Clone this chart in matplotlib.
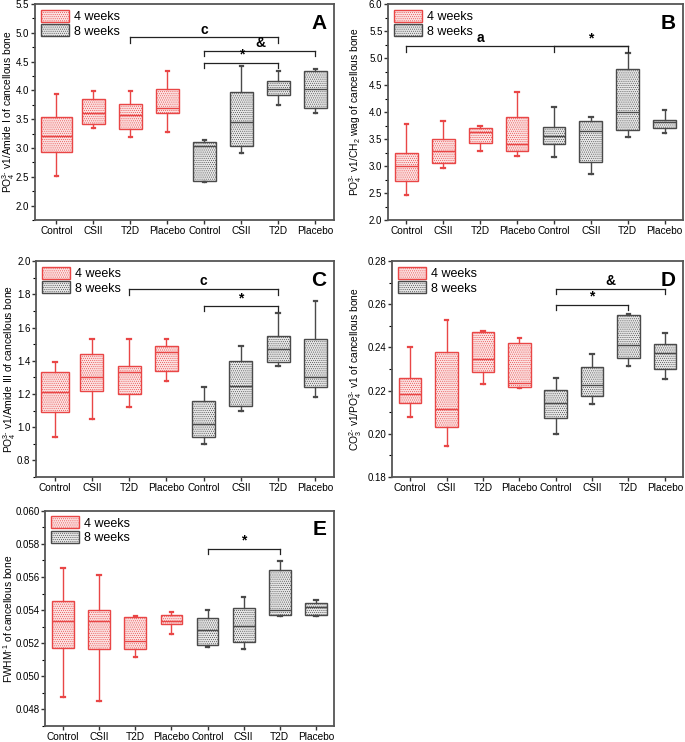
import numpy as np
import matplotlib
matplotlib.use('Agg')
import matplotlib.pyplot as plt
from matplotlib.patches import Patch
from matplotlib.ticker import MultipleLocator, FormatStrFormatter

plt.rcParams['font.family'] = ['Liberation Sans', 'DejaVu Sans']
plt.rcParams['mathtext.fontset'] = 'custom'
plt.rcParams['mathtext.rm'] = 'Liberation Sans'
plt.rcParams['mathtext.it'] = 'Liberation Sans:italic'
plt.rcParams['mathtext.bf'] = 'Liberation Sans:bold'
plt.rcParams['hatch.linewidth'] = 0.4

groups = ['Control', 'CSII', 'T2D', 'Placebo', 'Control', 'CSII', 'T2D', 'Placebo']

# panel A: PO4 v1 / Amide I
a_low = [2.51, 3.35, 3.20, 3.27, 2.41, 2.92, 3.74, 3.61]
a_q1 = [2.93, 3.42, 3.33, 3.60, 2.43, 3.04, 3.92, 3.70]
a_med = [3.21, 3.61, 3.58, 3.70, 3.04, 3.45, 4.03, 4.03]
a_q3 = [3.54, 3.85, 3.76, 4.02, 3.10, 3.98, 4.16, 4.33]
a_high = [3.93, 3.99, 3.99, 4.34, 3.14, 4.42, 4.33, 4.38]

# panel B: PO4 v1 / CH2 wag
b_low = [2.46, 2.96, 3.27, 3.19, 3.17, 2.86, 3.54, 3.62]
b_q1 = [2.72, 3.05, 3.43, 3.27, 3.41, 3.07, 3.67, 3.70]
b_med = [3.00, 3.27, 3.63, 3.40, 3.56, 3.65, 4.01, 3.82]
b_q3 = [3.25, 3.50, 3.70, 3.91, 3.72, 3.84, 4.80, 3.85]
b_high = [3.77, 3.84, 3.75, 4.38, 4.09, 3.91, 5.10, 4.04]

# panel C: PO4 v1 / Amide III
c_low = [0.94, 1.05, 1.12, 1.28, 0.90, 1.10, 1.37, 1.18]
c_q1 = [1.09, 1.22, 1.20, 1.34, 0.94, 1.13, 1.39, 1.24]
c_med = [1.21, 1.30, 1.33, 1.45, 1.02, 1.25, 1.47, 1.30]
c_q3 = [1.33, 1.44, 1.37, 1.49, 1.16, 1.40, 1.55, 1.53]
c_high = [1.39, 1.53, 1.53, 1.53, 1.24, 1.49, 1.69, 1.76]

# panel D: CO3 v1 / PO4 v1
d_low = [0.208, 0.1946, 0.2233, 0.2213, 0.200, 0.2139, 0.2313, 0.2253]
d_q1 = [0.2144, 0.2032, 0.2287, 0.2216, 0.2074, 0.2173, 0.2352, 0.2300]
d_med = [0.2185, 0.2113, 0.2347, 0.2236, 0.2141, 0.2224, 0.2412, 0.2375]
d_q3 = [0.2258, 0.2378, 0.2474, 0.2420, 0.2201, 0.2309, 0.2552, 0.2417]
d_high = [0.2400, 0.2525, 0.2476, 0.2445, 0.2258, 0.2372, 0.2553, 0.2468]

# panel E: FWHM^-1
e_low = [0.04877, 0.04852, 0.05114, 0.05257, 0.05175, 0.05165, 0.05366, 0.05366]
e_q1 = [0.05173, 0.05167, 0.05167, 0.05318, 0.05189, 0.05205, 0.05372, 0.05372]
e_med = [0.05332, 0.05332, 0.05215, 0.05335, 0.05281, 0.05306, 0.05400, 0.05420]
e_q3 = [0.05457, 0.05402, 0.05358, 0.05372, 0.05352, 0.05412, 0.05642, 0.05443]
e_high = [0.05656, 0.05610, 0.05366, 0.05388, 0.05402, 0.05479, 0.05698, 0.05459]

red = '#e94646'
red_fill = '#fbe2e2'
gray = '#4a4a4a'
gray_fill = '#e6e6e6'
hatch = '........'

fig = plt.figure(figsize=(6.85, 7.42), dpi=100)


def panel(rect, low, q1, med, q3, high, ylim, major, minor, fmt, ylabel, labelx,
          letter, brackets, widths, xlim=(0.5, 8.5)):
    ax = fig.add_axes(rect)
    stats = [dict(whislo=low[i], q1=q1[i], med=med[i], q3=q3[i], whishi=high[i])
             for i in range(8)]
    for i, s in enumerate(stats):
        c = red if i < 4 else gray
        f = red_fill if i < 4 else gray_fill
        ax.bxp([s], positions=[i + 1], widths=widths[i], patch_artist=True,
               showfliers=False, capwidths=0.1,
               boxprops=dict(facecolor=f, edgecolor=c, hatch=hatch, linewidth=1.0),
               medianprops=dict(color=c, linewidth=1.0),
               whiskerprops=dict(color=c, linewidth=1.0),
               capprops=dict(color=c, linewidth=1.6))
    ax.set_xlim(*xlim)
    ax.set_ylim(*ylim)
    ax.set_xticks(range(1, 9))
    ax.set_xticklabels(groups, fontsize=7.3)
    ax.yaxis.set_major_locator(MultipleLocator(major))
    ax.yaxis.set_minor_locator(MultipleLocator(minor))
    ax.yaxis.set_major_formatter(FormatStrFormatter(fmt))
    ax.tick_params(axis='y', labelsize=7.0, direction='out', length=3, width=1,
                   pad=1, colors='#333333', labelcolor='black')
    ax.tick_params(axis='y', which='minor', length=2, width=0.8)
    ax.tick_params(axis='x', direction='out', length=3, width=1, pad=1.5,
                   colors='#333333', labelcolor='black')
    for sp in ax.spines.values():
        sp.set_linewidth(1.3)
        sp.set_color('#555555')
    ax.set_ylabel(ylabel, fontsize=7.4)
    ax.yaxis.set_label_coords(labelx, 0.5)
    ax.text(0.975, 0.955, letter, transform=ax.transAxes, ha='right', va='top',
            fontsize=15, fontweight='bold')
    span = ylim[1] - ylim[0]
    for x1, x2, y, label, ticks, lx in brackets:
        ax.plot([x1, x2], [y, y], color='#222222', lw=0.9)
        for t in ticks:
            ax.plot([t, t], [y, y - 0.025 * span], color='#222222', lw=0.9)
        ax.text(lx, y + 0.004 * span, label, ha='center', va='bottom',
                fontsize=10, fontweight='bold')
    ax.legend(handles=[Patch(facecolor=red_fill, edgecolor=red, hatch=hatch),
                       Patch(facecolor=gray_fill, edgecolor=gray, hatch=hatch)],
              labels=['4 weeks', '8 weeks'], loc='upper left', frameon=False,
              fontsize=9, handlelength=2.3, handleheight=1.1,
              labelspacing=0.12, borderaxespad=0.25, borderpad=0.2,
              handletextpad=0.35)
    return ax


w = [0.62] * 8
panel([0.051, 0.7035, 0.4365, 0.291], a_low, a_q1, a_med, a_q3, a_high,
      (1.75, 5.5), 0.5, 0.25, '%.1f',
      r'PO$_4^{3\text{-}}$ v1/Amide I of cancellous bone', -0.06, 'A',
      [(3, 7, 4.92, 'c', [3, 7], 5), (5, 8, 4.69, '&', [5, 8], 6.5),
       (5, 7, 4.48, '*', [5, 7], 6)],
      [0.82] + [0.6] * 7, xlim=(0.42, 8.5))

panel([0.5664, 0.7035, 0.4307, 0.291], b_low, b_q1, b_med, b_q3, b_high,
      (2.0, 6.0), 0.5, 0.25, '%.1f',
      r'PO$_4^{3\text{-}}$ v1/CH$_2$ wag of cancellous bone', -0.082, 'B',
      [(1, 7, 5.22, 'a', [1, 5, 7], 3), (5, 7, 5.22, '*', [], 6)], w)

panel([0.0526, 0.3571, 0.435, 0.291], c_low, c_q1, c_med, c_q3, c_high,
      (0.7, 2.0), 0.2, 0.1, '%.1f',
      r'PO$_4^{3\text{-}}$ v1/Amide III of cancellous bone', -0.062, 'C',
      [(3, 7, 1.83, 'c', [3, 7], 5), (5, 7, 1.73, '*', [5, 7], 6)],
      [0.75] + [0.62] * 7)

panel([0.5723, 0.3571, 0.4248, 0.291], d_low, d_q1, d_med, d_q3, d_high,
      (0.18, 0.28), 0.02, 0.01, '%.2f',
      r'CO$_3^{2\text{-}}$ v1/PO$_4^{3\text{-}}$ v1 of cancellous bone', -0.095, 'D',
      [(5, 8, 0.2672, '&', [5, 8], 6.5), (5, 7, 0.2599, '*', [5, 7], 6)], w)

panel([0.0657, 0.0216, 0.4219, 0.29], e_low, e_q1, e_med, e_q3, e_high,
      (0.047, 0.060), 0.002, 0.001, '%.3f',
      r'FWHM$^{\text{-}1}$ of cancellous bone', -0.105, 'E',
      [(5, 7, 0.05772, '*', [5, 7], 6)], [0.6] * 8)

fig.savefig('out.png', dpi=100)
